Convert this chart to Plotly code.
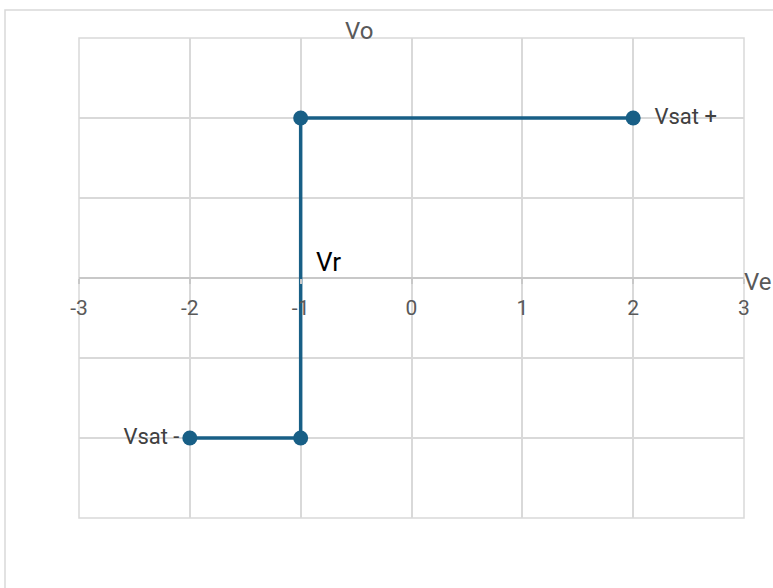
import plotly.graph_objects as go

ve = [-2, -1, -1, 2]
vo = [-2, -2, 2, 2]
point_labels = ["Vsat -", "", "", "  Vsat +"]
label_pos = ["middle left", "middle left", "middle left", "middle right"]
x_ticks = [-3, -2, -1, 0, 1, 2, 3]
y_ticks = [-3, -2, -1, 0, 1, 2, 3]

GRID = "#d9d9d9"
LINE = "#185f86"
FONT = "Roboto"

fig = go.Figure()
fig.add_trace(go.Scatter(
    x=ve, y=vo, mode="lines+markers+text",
    line=dict(color=LINE, width=3.5),
    marker=dict(color=LINE, size=15),
    text=point_labels,
    textposition=label_pos,
    textfont=dict(family=FONT, size=22, color="#404040"),
    cliponaxis=False, showlegend=False, hoverinfo="skip",
))

fig.add_annotation(x=-1, y=0, xref="x", yref="y", text="Vr", showarrow=False,
                   xanchor="left", yanchor="middle", xshift=13, yshift=16,
                   font=dict(family=FONT, size=26, color="#000000"))
fig.add_annotation(x=-0.477, y=3, xref="x", yref="y", text="Vo", showarrow=False,
                   xanchor="center", yanchor="middle", yshift=7,
                   font=dict(family=FONT, size=24, color="#595959"))
fig.add_annotation(x=3, y=0, xref="x", yref="y", text="Ve", showarrow=False,
                   xanchor="left", yanchor="middle", xshift=-2, yshift=-4,
                   font=dict(family=FONT, size=24, color="#595959"))

# plot-area border
fig.add_shape(type="rect", xref="paper", yref="paper", x0=0, x1=1, y0=0, y1=1,
              line=dict(color=GRID, width=1.5), layer="below")
# outer chart frame (cropped at right/bottom)
fig.add_shape(type="rect", xref="paper", yref="paper",
              x0=(5 - 79) / 665, x1=1.3, y0=-0.4, y1=(518 - 10) / 480,
              line=dict(color=GRID, width=1.5), layer="below")

fig.update_layout(
    width=773, height=588,
    margin=dict(l=79, r=29, t=38, b=70, autoexpand=False),
    plot_bgcolor="white", paper_bgcolor="white",
    xaxis=dict(range=[-3, 3], tickvals=x_ticks, ticktext=[str(v) for v in x_ticks],
               showgrid=True, gridcolor=GRID, gridwidth=1.5,
               zeroline=False, showline=False,
               anchor="free", position=0.5,
               ticks="outside", ticklen=5, tickcolor="#c8c8c8", tickwidth=1.5,
               ticklabelstandoff=6,
               tickfont=dict(family=FONT, size=21, color="#595959")),
    yaxis=dict(range=[-3, 3], tickvals=y_ticks, showticklabels=False,
               showgrid=True, gridcolor=GRID, gridwidth=1.5,
               zeroline=True, zerolinecolor="#c8c8c8", zerolinewidth=2,
               showline=False),
)

fig.write_html("out.html",
               config={"displayModeBar": False},
               post_script="document.body.style.margin='0';document.body.style.overflow='hidden';")
